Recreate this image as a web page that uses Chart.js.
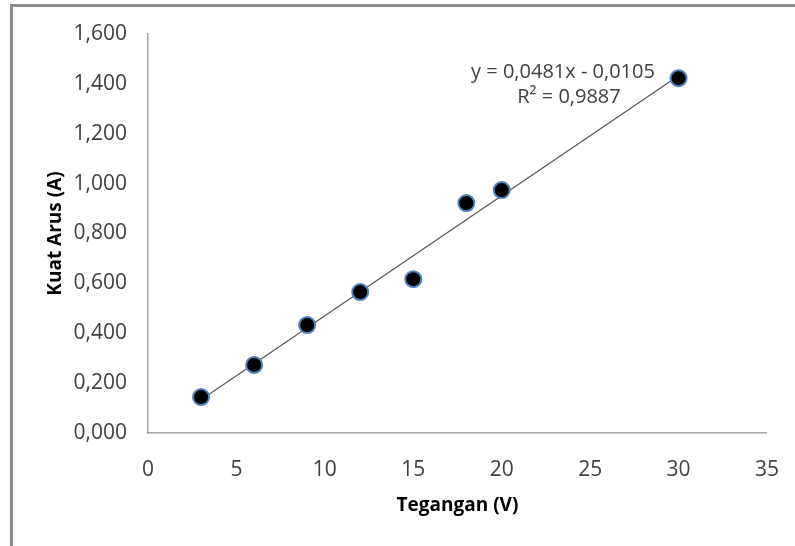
<!DOCTYPE html>
<html>
<head>
<meta charset="utf-8">
<script src="https://cdn.jsdelivr.net/npm/chart.js@4"></script>
<style>
    body { margin: 0; background: #fff; }
    #wrap { position: relative; width: 795px; height: 546px; }
    #frame {
        position: absolute; left: 10px; top: 4px; right: 0; bottom: 0;
        border-left: 3px solid #8c8c8c; border-top: 3px solid #8c8c8c;
    }
    canvas { position: absolute; left: 0; top: 0; }
</style>
</head>
<body>
<div id="wrap">
    <div id="frame"></div>
    <canvas id="chart" width="795" height="546"></canvas>
</div>
<script>
// ========================
// DATA
// ========================
const voltage = [3, 6, 9, 12, 15, 18, 20, 30];
const current = [0.144, 0.273, 0.433, 0.565, 0.617, 0.922, 0.974, 1.423];

// linear trendline endpoints (y = 0,0481x - 0,0105)
const trendX = [3, 30];
const trendY = [0.1338, 1.4325];

const equationText = ['y = 0,0481x - 0,0105', 'R\u00B2 = 0,9887'];

const textColor = '#404040';
const fontFamily = "'Open Sans', 'Liberation Sans', sans-serif";

// ========================
// EQUATION LABEL
// ========================
const equationPlugin = {
    id: 'equation',
    afterDraw(chart) {
        const ctx = chart.ctx;
        ctx.save();
        ctx.fillStyle = textColor;
        ctx.font = '20px ' + fontFamily;
        ctx.textAlign = 'center';
        ctx.textBaseline = 'middle';
        ctx.fillText(equationText[0], 563, 72);
        ctx.fillText(equationText[1], 569, 97);
        ctx.restore();
    }
};

// ========================
// CHART
// ========================
new Chart(document.getElementById('chart'), {
    type: 'scatter',
    data: {
        datasets: [
            {
                label: 'Kuat Arus',
                data: voltage.map(function(v, i) { return { x: v, y: current[i] }; }),
                backgroundColor: '#000',
                borderColor: '#4f81bd',
                borderWidth: 2,
                pointRadius: 8,
                pointHoverRadius: 8,
                order: 0
            },
            {
                type: 'line',
                label: 'Linear',
                data: trendX.map(function(v, i) { return { x: v, y: trendY[i] }; }),
                borderColor: '#555',
                borderWidth: 1.2,
                pointRadius: 0,
                fill: false,
                order: 1
            }
        ]
    },
    options: {
        responsive: false,
        animation: false,
        layout: { padding: { left: 0, top: 34, right: 24, bottom: 0 } },
        plugins: {
            legend: { display: false },
            tooltip: { enabled: false }
        },
        scales: {
            x: {
                type: 'linear',
                min: 0,
                max: 35,
                grid: { display: false },
                border: { display: true, color: '#a6a6a6', width: 1.5 },
                ticks: {
                    stepSize: 5,
                    padding: 16,
                    color: textColor,
                    font: { family: fontFamily, size: 21 }
                },
                title: {
                    display: true,
                    text: 'Tegangan (V)',
                    color: '#000',
                    padding: { top: 0, bottom: 29 },
                    font: { family: fontFamily, size: 19, weight: 'bold' }
                },
                afterFit: function(scale) { scale.height = 113; }
            },
            y: {
                min: 0,
                max: 1.6,
                grid: { display: false },
                border: { display: true, color: '#a6a6a6', width: 1.5 },
                ticks: {
                    stepSize: 0.2,
                    padding: 13,
                    color: textColor,
                    font: { family: fontFamily, size: 21 },
                    callback: function(value) { return value.toFixed(3).replace('.', ','); }
                },
                title: {
                    display: true,
                    text: 'Kuat Arus (A)',
                    color: '#000',
                    padding: { top: 44, bottom: 0 },
                    font: { family: fontFamily, size: 19, weight: 'bold' }
                },
                afterFit: function(scale) { scale.width = 148; }
            }
        }
    },
    plugins: [equationPlugin]
});
</script>
</body>
</html>
